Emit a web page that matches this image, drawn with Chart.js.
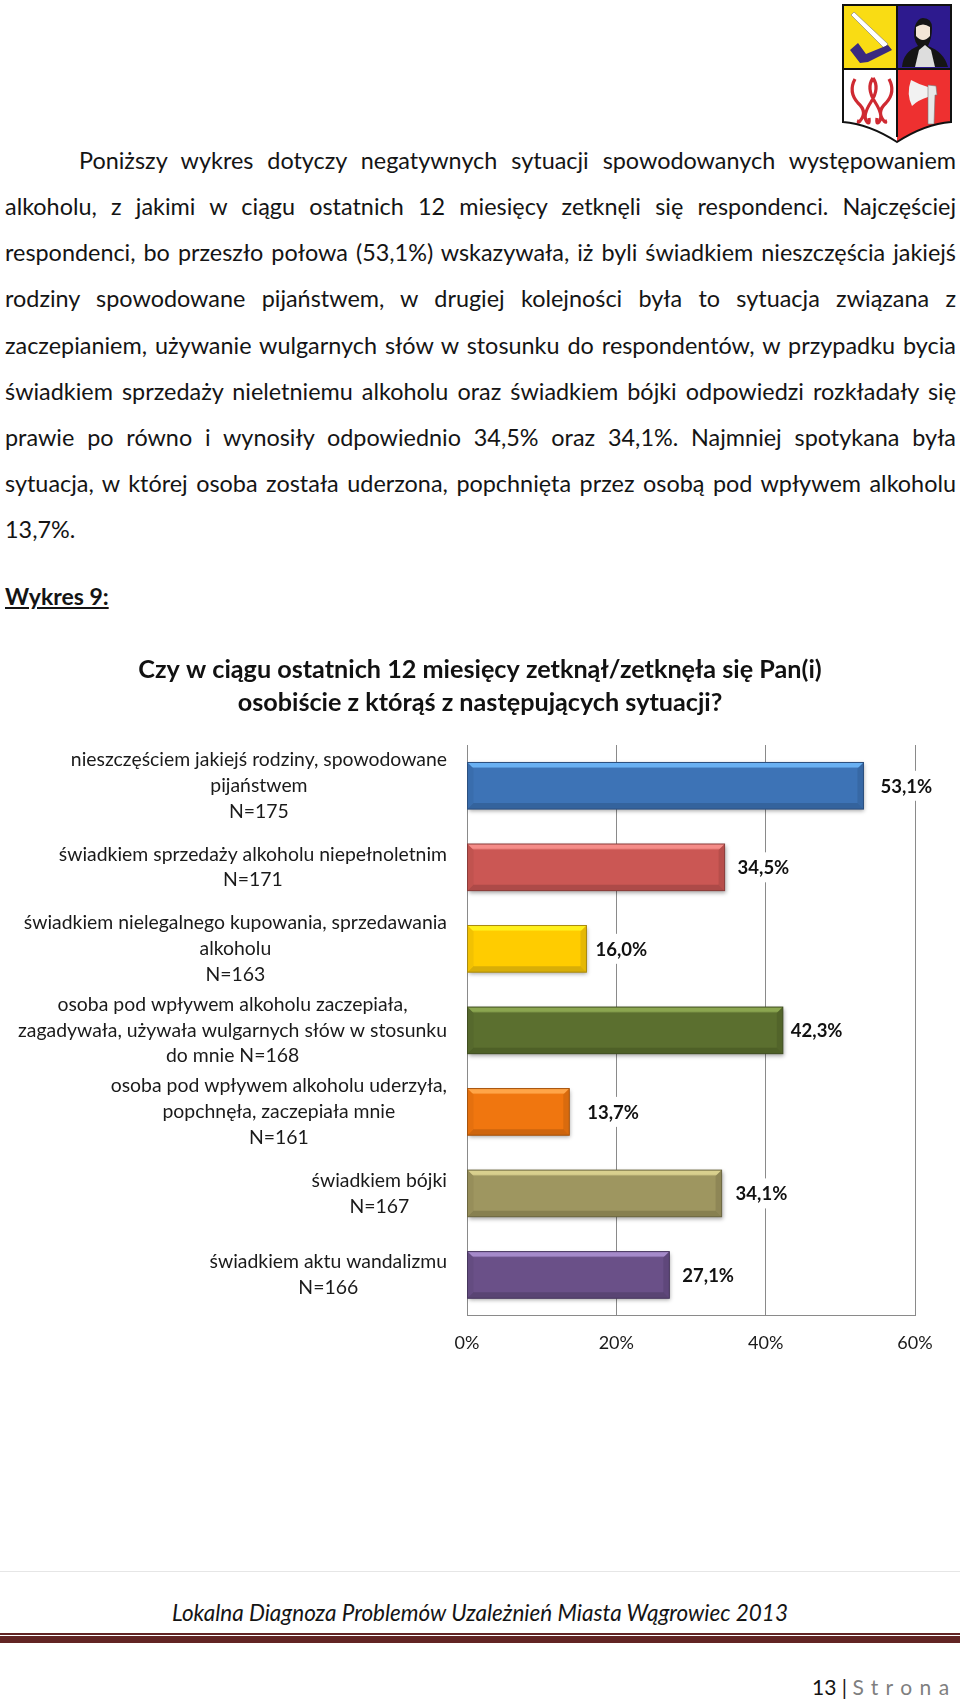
<!DOCTYPE html>
<html lang="pl">
<head>
<meta charset="utf-8">
<title>Wykres 9</title>
<script src="https://cdn.jsdelivr.net/npm/chart.js@4/dist/chart.umd.js"></script>
<style>
  html, body { margin: 0; padding: 0; background: #fff; }
  body { position: relative; width: 960px; height: 1701px; overflow: hidden; font-family: Lato, sans-serif; color: #141414; }
  .line { position: absolute; left: 5px; width: 951px; font-size: 23.4px; height: 28px; line-height: 28px; text-align: justify; text-align-last: justify; white-space: nowrap; }
  .abs { position: absolute; white-space: nowrap; }
  canvas { position: absolute; left: 0; top: 640px; }
</style>
</head>
<body>

<svg class="abs" style="left:0;top:0" width="960" height="150" viewBox="0 0 960 150">
  <path d="M843 5H951V122Q925 124 897 142Q869 124 843 122Z" fill="#fff"/>
  <rect x="844" y="6" width="53" height="63" fill="#f9dc14"/>
  <rect x="897" y="6" width="54" height="63" fill="#2d1a8e"/>
  <path d="M897 69H951V122Q925 124 897 142Z" fill="#ee3030"/>
  <path d="M854 12L888 44L884 48L851 15Z" fill="#fff" stroke="#777" stroke-width=".6"/>
  <path d="M850 50L858 43L866 54L888 45L892 50L868 62L860 63Z" fill="#3a2a80"/>
  <path d="M902 67Q903 52 918 46Q912 38 915 26Q918 18 923 18Q932 18 932 28Q932 38 928 46Q944 52 948 67Z" fill="#151515"/>
  <path d="M915 67L919 50L925 45L931 50L935 67Z" fill="#ddd"/>
  <path d="M916 27Q923 22 930 27V36Q923 44 916 36Z" fill="#f3e6d6"/>
  <path d="M855 79Q848 92 858 103Q868 112 860 121Q857 124 859 120M873 78Q866 88 875 102Q884 116 879 122Q876 125 877 118M873 78Q880 88 871 102Q862 116 867 122Q870 125 869 118M889 79Q896 92 886 103Q876 112 884 121Q887 124 885 120" fill="none" stroke="#cf2a32" stroke-width="3.2"/>
  <path d="M911 80Q918 84 928 87V97Q918 100 912 106Q906 94 911 80Z" fill="#f2f2f2"/>
  <path d="M928 85L936 86L937 95L935 95L934 124L928 124Z" fill="#e8e8e8" stroke="#777" stroke-width=".6"/>
  <path d="M843 5H951V122Q925 124 897 142Q869 124 843 122Z M897 5V137 M843 69H951" fill="none" stroke="#111" stroke-width="2"/>
</svg>

<div class="line" style="top:146px;left:79px;width:877px">Poniższy wykres dotyczy negatywnych sytuacji spowodowanych występowaniem</div>
<div class="line" style="top:192px">alkoholu, z jakimi w ciągu ostatnich 12 miesięcy zetknęli się respondenci. Najczęściej</div>
<div class="line" style="top:238px">respondenci, bo przeszło połowa (53,1%) wskazywała, iż byli świadkiem nieszczęścia jakiejś</div>
<div class="line" style="top:284px">rodziny spowodowane pijaństwem, w drugiej kolejności była to sytuacja związana z</div>
<div class="line" style="top:331px">zaczepianiem, używanie wulgarnych słów w stosunku do respondentów, w przypadku bycia</div>
<div class="line" style="top:377px">świadkiem sprzedaży nieletniemu alkoholu oraz świadkiem bójki odpowiedzi rozkładały się</div>
<div class="line" style="top:423px">prawie po równo i wynosiły odpowiednio 34,5% oraz 34,1%. Najmniej spotykana była</div>
<div class="line" style="top:469px">sytuacja, w której osoba została uderzona, popchnięta przez osobą pod wpływem alkoholu</div>
<div class="line" style="top:515px;text-align-last:left">13,7%.</div>
<div class="abs" style="left:5px;top:582px;font-size:23px;line-height:28px;font-weight:700;text-decoration:underline">Wykres 9:</div>

<canvas id="chart" width="960" height="740"></canvas>

<div class="abs" style="left:0;top:1571px;width:960px;height:1px;background:#e6e6e6"></div>
<div class="abs" style="left:0;width:960px;top:1599px;text-align:center;font-size:22.5px;line-height:28px;font-style:italic">Lokalna Diagnoza Problemów Uzależnień Miasta Wągrowiec 2013</div>
<div class="abs" style="left:0;top:1633px;width:960px;height:2px;background:#622423"></div>
<div class="abs" style="left:0;top:1636px;width:960px;height:7px;background:#622423"></div>
<div class="abs" style="left:812px;top:1673px;font-size:21px;line-height:28px">13 | <span style="color:#7f7f7f;letter-spacing:7.4px">Strona</span></div>

<script>
var titleLines = ['Czy w ciągu ostatnich 12 miesięcy zetknął/zetknęła się Pan(i)', 'osobiście z którąś z następujących sytuacji?'];
var categories = [
  ['nieszczęściem jakiejś rodziny, spowodowane', 'pijaństwem', 'N=175'],
  ['świadkiem sprzedaży alkoholu niepełnoletnim', 'N=171'],
  ['świadkiem nielegalnego kupowania, sprzedawania', 'alkoholu', 'N=163'],
  ['osoba pod wpływem alkoholu zaczepiała,', 'zagadywała, używała wulgarnych słów w stosunku', 'do mnie N=168'],
  ['osoba pod wpływem alkoholu uderzyła,', 'popchnęła, zaczepiała mnie', 'N=161'],
  ['świadkiem bójki', 'N=167'],
  ['świadkiem aktu wandalizmu', 'N=166']
];
var values = [53.1, 34.5, 16.0, 42.3, 13.7, 34.1, 27.1];
var tickLabels = ['0%', '20%', '40%', '60%'];

var barColors = ['#3d73b6', '#cb5754', '#ffcc00', '#5b6f2f', '#f0760f', '#9e9660', '#6a5088'];
var barLights = ['#69b0f2', '#f58c88', '#fff01c', '#8ba650', '#ffa548', '#d9d08e', '#a58aca'];
var barDarks = ['#2b4f7e', '#8a3b39', '#a98a10', '#3f4d20', '#a5530d', '#6a653f', '#45355c'];
var labelGaps = [17, 13, 9, 8, 18, 14, 13];

var LABEL_FONT = '19.4px Lato';
var VALUE_FONT = 'bold 18.5px Lato';

// bevel, category labels and value labels are drawn from the bar elements
var barDecor = {
  id: 'barDecor',
  beforeDatasetsDraw: function(chart) {
    var ctx = chart.ctx;
    ctx.save();
    ctx.shadowColor = 'rgba(0,0,0,0.35)';
    ctx.shadowBlur = 4;
    ctx.shadowOffsetX = 1;
    ctx.shadowOffsetY = 2;
  },
  afterDatasetsDraw: function(chart) {
    var ctx = chart.ctx;
    ctx.restore();
    var bars = chart.getDatasetMeta(0).data;
    bars.forEach(function(bar, i) {
      var h = bar.height / 2;
      var l = bar.base, r = bar.x, t = bar.y - h, b = bar.y + h;
      var bevel = 6;

      var grad = ctx.createLinearGradient(0, t, 0, t + bevel);
      grad.addColorStop(0, barLights[i]);
      grad.addColorStop(0.7, barLights[i]);
      grad.addColorStop(1, barColors[i]);
      ctx.fillStyle = grad;
      ctx.beginPath();
      ctx.moveTo(l, t); ctx.lineTo(r, t); ctx.lineTo(r - bevel, t + bevel); ctx.lineTo(l + bevel, t + bevel);
      ctx.closePath();
      ctx.fill();

      ctx.globalAlpha = 0.45;
      ctx.fillStyle = barDarks[i];
      ctx.beginPath();
      ctx.moveTo(l, b); ctx.lineTo(r, b); ctx.lineTo(r - bevel, b - bevel); ctx.lineTo(l + bevel, b - bevel);
      ctx.closePath();
      ctx.fill();
      ctx.globalAlpha = 0.3;
      ctx.beginPath();
      ctx.moveTo(r, t); ctx.lineTo(r, b); ctx.lineTo(r - bevel, b - bevel); ctx.lineTo(r - bevel, t + bevel);
      ctx.closePath();
      ctx.fill();
      ctx.globalAlpha = 0.15;
      ctx.beginPath();
      ctx.moveTo(l, t); ctx.lineTo(l, b); ctx.lineTo(l + bevel, b - bevel); ctx.lineTo(l + bevel, t + bevel);
      ctx.closePath();
      ctx.fill();
      ctx.globalAlpha = 1;

      ctx.strokeStyle = barDarks[i];
      ctx.lineWidth = 1;
      ctx.strokeRect(l, t, r - l, b - t);

      // value label on a white patch, it cuts the gridline
      var text = values[i].toFixed(1).replace('.', ',') + '%';
      ctx.font = VALUE_FONT;
      var w = ctx.measureText(text).width;
      var x = r + labelGaps[i];
      ctx.fillStyle = '#fff';
      ctx.fillRect(x - 2, bar.y - 15, w + 4, 30);
      ctx.fillStyle = '#111';
      ctx.textAlign = 'left';
      ctx.textBaseline = 'middle';
      ctx.fillText(text, x, bar.y + 1);

      // category block: right edge fixed, lines centred inside it
      var lines = categories[i];
      ctx.font = LABEL_FONT;
      var widest = 0;
      lines.forEach(function(s) { widest = Math.max(widest, ctx.measureText(s).width); });
      var cx = chart.scales.y.right - 20 - widest / 2;
      ctx.textAlign = 'center';
      ctx.fillStyle = '#1a1a1a';
      lines.forEach(function(s, k) {
        ctx.fillText(s, cx, bar.y + (k - (lines.length - 1) / 2) * 25.7);
      });
    });
  }
};

new Chart(document.getElementById('chart'), {
  type: 'bar',
  data: {
    labels: categories,
    datasets: [{
      data: values,
      backgroundColor: barColors,
      borderWidth: 0,
      barPercentage: 0.572,
      categoryPercentage: 1
    }]
  },
  options: {
    indexAxis: 'y',
    responsive: false,
    animation: false,
    layout: { padding: { left: 45, right: 45 } },
    plugins: {
      legend: { display: false },
      tooltip: { enabled: false },
      title: {
        display: true,
        text: titleLines,
        color: '#111',
        font: { family: 'Lato', size: 25.2, weight: 'bold', lineHeight: 1.31 },
        padding: { top: 13.5, bottom: 25.5 }
      }
    },
    scales: {
      x: {
        min: 0,
        max: 60,
        afterFit: function(scale) { scale.height = 64.3; },
        grid: { color: '#8a8a8a', lineWidth: 1, drawTicks: false },
        border: { color: '#8a8a8a', width: 1 },
        ticks: {
          stepSize: 20,
          padding: 17,
          maxRotation: 0,
          color: '#1a1a1a',
          font: { family: 'Lato', size: 18 },
          callback: function(v, i) { return tickLabels[i]; }
        }
      },
      y: {
        afterFit: function(scale) { scale.width = 422; },
        grid: { display: false },
        border: { display: false },
        ticks: { display: false }
      }
    }
  },
  plugins: [barDecor]
});
</script>
</body>
</html>
